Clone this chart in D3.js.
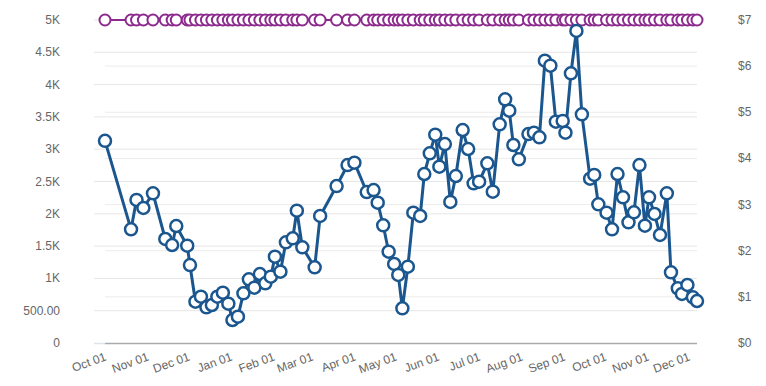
<!DOCTYPE html>
<html>
<head>
<meta charset="utf-8">
<script src="https://cdn.jsdelivr.net/npm/d3@7"></script>
<style>
  body { margin: 0; background: #fff; }
  svg text { font-family: "Liberation Sans", Arial, sans-serif; font-size: 12px; fill: #666; }
</style>
</head>
<body>
<svg id="chart" width="766" height="386"></svg>
<script>
// dates shared by both series
var dates = [
  "2018-10-01","2018-10-20","2018-10-24","2018-10-29","2018-11-05","2018-11-14","2018-11-19","2018-11-22",
  "2018-11-30","2018-12-02","2018-12-06","2018-12-10","2018-12-14","2018-12-18","2018-12-22","2018-12-26",
  "2018-12-30","2019-01-02","2019-01-06","2019-01-10","2019-01-14","2019-01-18","2019-01-22","2019-01-26",
  "2019-01-30","2019-02-02","2019-02-06","2019-02-10","2019-02-15","2019-02-18","2019-02-22","2019-03-03",
  "2019-03-07","2019-03-19","2019-03-27","2019-04-01","2019-04-10","2019-04-15","2019-04-18","2019-04-22",
  "2019-04-26","2019-04-30","2019-05-03","2019-05-06","2019-05-10","2019-05-14","2019-05-19","2019-05-22",
  "2019-05-26","2019-05-30","2019-06-02","2019-06-06","2019-06-10","2019-06-14","2019-06-19","2019-06-23",
  "2019-06-27","2019-07-01","2019-07-07","2019-07-11","2019-07-16","2019-07-20","2019-07-23","2019-07-26",
  "2019-07-30","2019-08-06","2019-08-10","2019-08-14","2019-08-18","2019-08-22","2019-08-26","2019-08-31",
  "2019-09-02","2019-09-06","2019-09-10","2019-09-14","2019-09-20","2019-09-23","2019-09-26","2019-10-02",
  "2019-10-06","2019-10-10","2019-10-14","2019-10-18","2019-10-22","2019-10-26","2019-10-30","2019-11-02",
  "2019-11-06","2019-11-10","2019-11-15","2019-11-18","2019-11-23","2019-11-26","2019-11-30","2019-12-04",
  "2019-12-07"
];

// blue series, left axis
var volume = [
  3130,1760,2214,2090,2317,1610,1517,1811,
  1506,1207,639,717,553,588,717,779,
  608,356,407,769,986,856,1068,924,
  1026,1336,1104,1559,1621,2048,1481,1172,
  1966,2430,2755,2791,2337,2368,2172,1822,
  1413,1223,1053,537,1181,2017,1966,2616,
  2937,3225,2729,3080,2183,2585,3297,3003,
  2472,2497,2782,2342,3385,3772,3596,3065,
  2844,3235,3256,3184,4370,4293,3426,3437,
  3256,4175,4830,3540,2543,2601,2147,2017,
  1760,2616,2255,1868,2023,2755,1816,2255,
  1997,1672,2317,1094,847,759,898,707,
  650
];

// purple series, right axis (flat)
var price = dates.map(function() { return 7; });

var leftTicks = [0, 500, 1000, 1500, 2000, 2500, 3000, 3500, 4000, 4500, 5000];
var leftLabels = ["0", "500.00", "1K", "1.5K", "2K", "2.5K", "3K", "3.5K", "4K", "4.5K", "5K"];
var rightTicks = [0, 1, 2, 3, 4, 5, 6, 7];

var parse = d3.timeParse("%Y-%m-%d");
var svg = d3.select("#chart");

var x = d3.scaleTime()
  .domain([parse("2018-10-01"), parse("2019-12-07")])
  .range([105, 697]);
var yL = d3.scaleLinear().domain([0, 5000]).range([343, 20]);
var yR = d3.scaleLinear().domain([0, 7]).range([343, 20]);

// grid lines
svg.append("g").selectAll("line")
  .data(leftTicks.slice(1))
  .enter().append("line")
  .attr("x1", 94).attr("x2", 697)
  .attr("y1", function(d) { return yL(d); })
  .attr("y2", function(d) { return yL(d); })
  .attr("stroke", "#e6e6e6").attr("stroke-width", 1);

svg.append("g").selectAll("line")
  .data(rightTicks.slice(1))
  .enter().append("line")
  .attr("x1", 105).attr("x2", 697)
  .attr("y1", function(d) { return yR(d); })
  .attr("y2", function(d) { return yR(d); })
  .attr("stroke", "#ececec").attr("stroke-width", 1);

// baseline
svg.append("line").attr("x1", 94).attr("x2", 105).attr("y1", 343.5).attr("y2", 343.5)
  .attr("stroke", "#dde3ea").attr("stroke-width", 1.5);
svg.append("line").attr("x1", 105).attr("x2", 697).attr("y1", 343.5).attr("y2", 343.5)
  .attr("stroke", "#aaa").attr("stroke-width", 1.5);

// left axis labels
svg.append("g").selectAll("text")
  .data(leftTicks)
  .enter().append("text")
  .attr("x", 60)
  .attr("y", function(d) { return yL(d) + 4; })
  .attr("text-anchor", "end")
  .text(function(d, i) { return leftLabels[i]; });

// right axis labels
svg.append("g").selectAll("text")
  .data(rightTicks)
  .enter().append("text")
  .attr("x", 738)
  .attr("y", function(d) { return yR(d) + 4; })
  .text(function(d) { return "$" + d; });

// x axis labels
var fmt = d3.timeFormat("%b %d");
svg.append("g").selectAll("text")
  .data(d3.timeMonth.range(parse("2018-10-01"), parse("2019-12-02")))
  .enter().append("text")
  .attr("text-anchor", "end")
  .attr("transform", function(d) { return "translate(" + (x(d) + 2) + ",360) rotate(-20)"; })
  .text(fmt);

// series
var rows = dates.map(function(d, i) { return { date: parse(d), v: volume[i], p: price[i] }; });

var bluePath = d3.line()
  .x(function(d) { return x(d.date); })
  .y(function(d) { return yL(d.v); });
var purplePath = d3.line()
  .x(function(d) { return x(d.date); })
  .y(function(d) { return yR(d.p); });

svg.append("path").datum(rows)
  .attr("d", purplePath)
  .attr("fill", "none").attr("stroke", "#8c2a8d").attr("stroke-width", 2);
svg.append("g").selectAll("circle")
  .data(rows).enter().append("circle")
  .attr("cx", function(d) { return x(d.date); })
  .attr("cy", function(d) { return yR(d.p); })
  .attr("r", 5.5)
  .attr("fill", "#fff").attr("stroke", "#8c2a8d").attr("stroke-width", 2);

svg.append("path").datum(rows)
  .attr("d", bluePath)
  .attr("fill", "none").attr("stroke", "#1b578e").attr("stroke-width", 3)
  .attr("stroke-linejoin", "round");
svg.append("g").selectAll("circle")
  .data(rows).enter().append("circle")
  .attr("cx", function(d) { return x(d.date); })
  .attr("cy", function(d) { return yL(d.v); })
  .attr("r", 6)
  .attr("fill", "#fff").attr("stroke", "#1b578e").attr("stroke-width", 2.5);
</script>
</body>
</html>
